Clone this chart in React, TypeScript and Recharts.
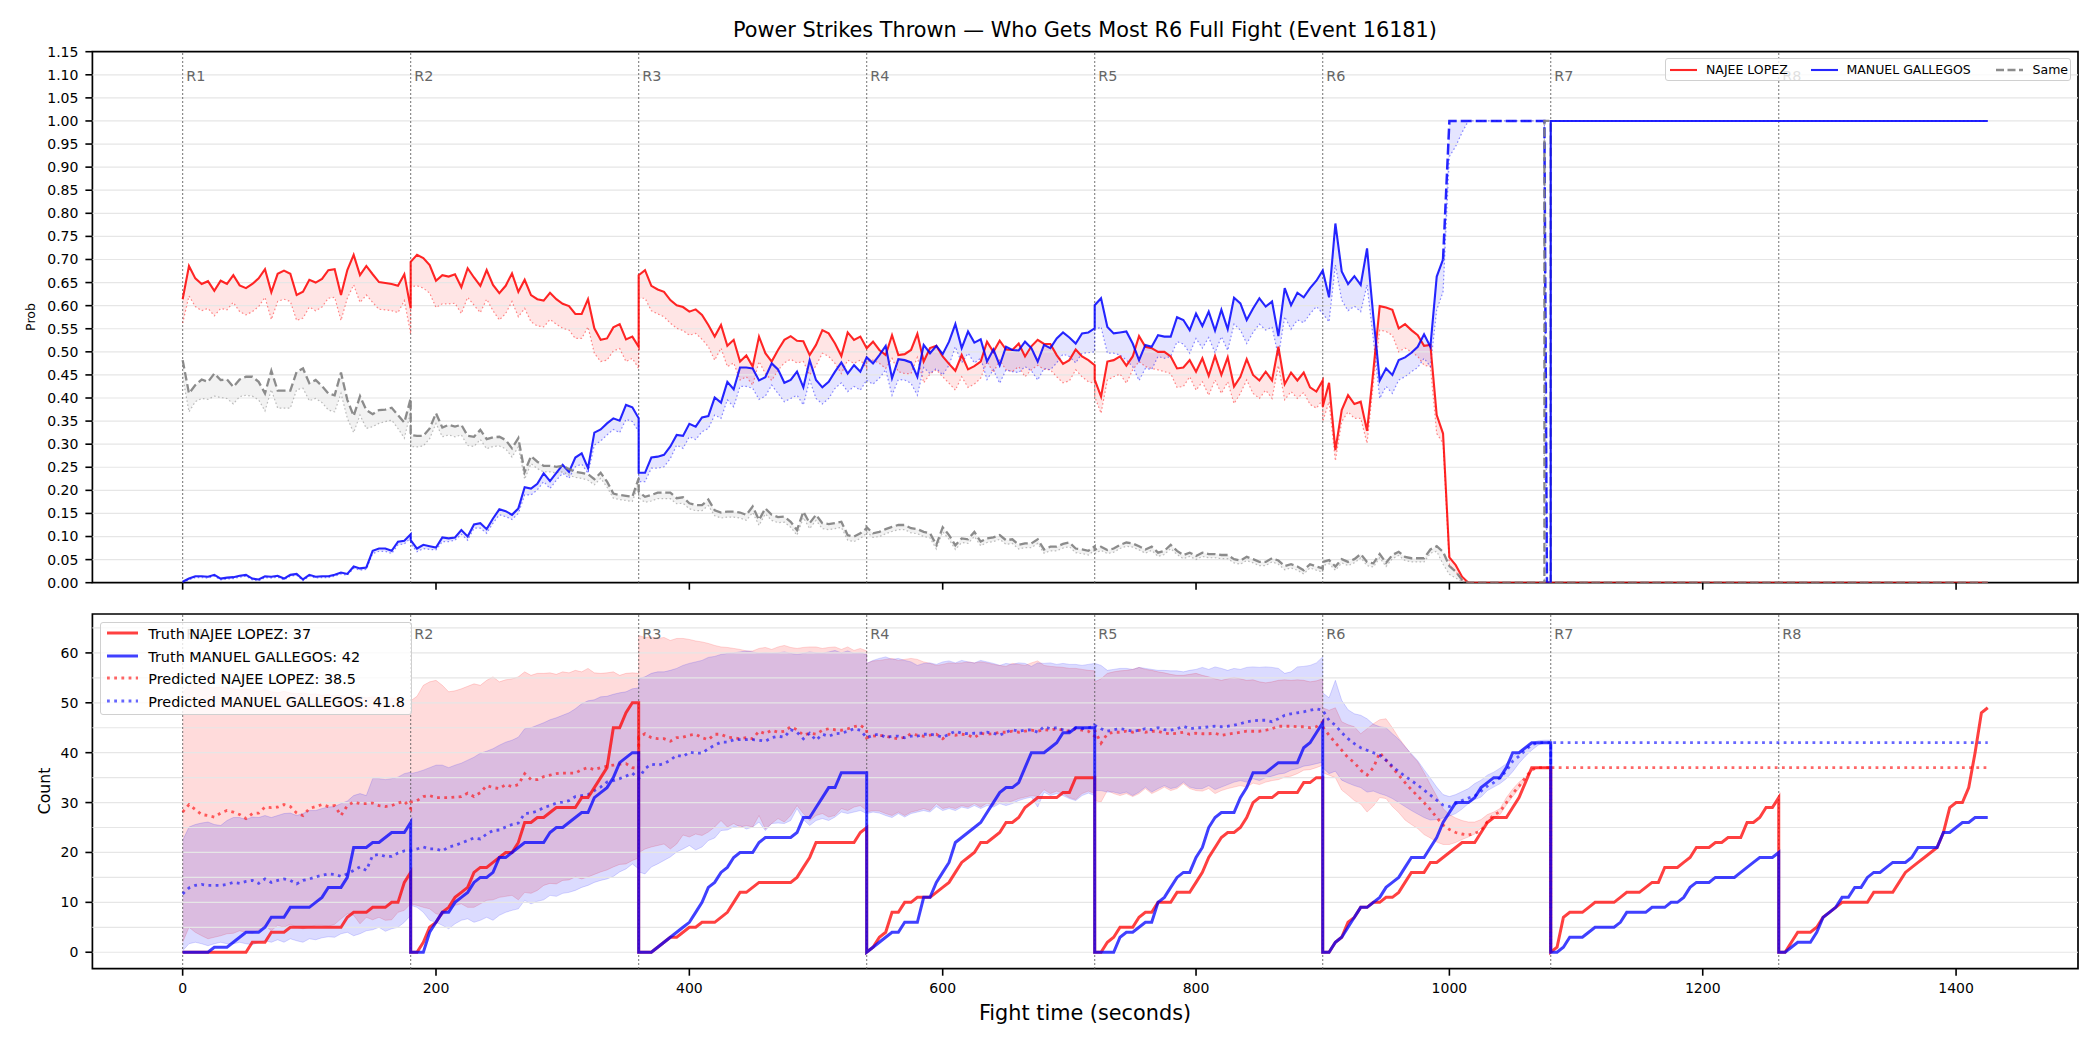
import {
  Area,
  ComposedChart,
  Line,
  ReferenceArea,
  ReferenceLine,
  XAxis,
  YAxis,
} from "recharts";

const FONT = "'DejaVu Sans', sans-serif";
const RED = "#ff0000";
const BLUE = "#0000ff";
const GRAY = "#808080";

const TITLE = "Power Strikes Thrown — Who Gets Most R6 Full Fight (Event 16181)";
const FIGHTER_A = "NAJEE LOPEZ";
const FIGHTER_B = "MANUEL GALLEGOS";
const PRED_A_TOTAL = 38.5;
const PRED_B_TOTAL = 41.8;

const ROUND_SECONDS = 180;
const SAMPLE_SECONDS = 5;
const ROUND_STARTS = [0, 180, 360, 540, 720, 900, 1080, 1260];
const ROUND_NAMES = ["R1", "R2", "R3", "R4", "R5", "R6", "R7", "R8"];

const X_DOMAIN: [number, number] = [-71.25, 1496.25];
const X_TICKS = [0, 200, 400, 600, 800, 1000, 1200, 1400];
const PROB_DOMAIN: [number, number] = [0, 1.15];
const PROB_TICKS = [
  0, 0.05, 0.1, 0.15, 0.2, 0.25, 0.3, 0.35, 0.4, 0.45, 0.5, 0.55, 0.6, 0.65,
  0.7, 0.75, 0.8, 0.85, 0.9, 0.95, 1.0, 1.05, 1.1, 1.15,
];
const COUNT_DOMAIN: [number, number] = [-3.3, 67.8];
const COUNT_TICKS = [0, 10, 20, 30, 40, 50, 60];
const COUNT_GRID = [0, 5, 10, 15, 20, 25, 30, 35, 40, 45, 50, 55, 60, 65];

// ---- win probability, one row per round, sampled every 5 s ----
const RED_PROB = [
  [0.614, 0.686, 0.659, 0.647, 0.653, 0.632, 0.654, 0.647, 0.666, 0.644, 0.638, 0.647, 0.659, 0.679, 0.629, 0.669, 0.676, 0.669, 0.623, 0.63, 0.656, 0.65, 0.658, 0.677, 0.679, 0.623, 0.677, 0.71, 0.666, 0.686, 0.668, 0.651, 0.649, 0.647, 0.643, 0.668, 0.594],
  [0.695, 0.71, 0.703, 0.688, 0.654, 0.666, 0.663, 0.668, 0.64, 0.681, 0.661, 0.643, 0.677, 0.645, 0.627, 0.643, 0.67, 0.63, 0.656, 0.623, 0.614, 0.611, 0.628, 0.614, 0.604, 0.599, 0.582, 0.582, 0.614, 0.551, 0.526, 0.529, 0.553, 0.56, 0.527, 0.533, 0.511],
  [0.666, 0.677, 0.643, 0.635, 0.63, 0.612, 0.601, 0.597, 0.587, 0.592, 0.58, 0.558, 0.533, 0.558, 0.513, 0.526, 0.479, 0.492, 0.468, 0.533, 0.497, 0.479, 0.504, 0.526, 0.534, 0.524, 0.523, 0.493, 0.515, 0.547, 0.54, 0.518, 0.491, 0.542, 0.526, 0.533, 0.508],
  [0.508, 0.522, 0.504, 0.493, 0.536, 0.493, 0.495, 0.504, 0.539, 0.479, 0.508, 0.513, 0.49, 0.474, 0.459, 0.493, 0.462, 0.469, 0.479, 0.522, 0.5, 0.524, 0.505, 0.504, 0.518, 0.49, 0.512, 0.526, 0.517, 0.517, 0.493, 0.474, 0.482, 0.505, 0.49, 0.482, 0.471],
  [0.44, 0.403, 0.479, 0.482, 0.49, 0.47, 0.49, 0.534, 0.511, 0.508, 0.5, 0.5, 0.49, 0.464, 0.466, 0.482, 0.457, 0.486, 0.448, 0.491, 0.45, 0.488, 0.425, 0.446, 0.484, 0.45, 0.438, 0.457, 0.438, 0.511, 0.43, 0.455, 0.438, 0.455, 0.423, 0.414, 0.438],
  [0.381, 0.433, 0.287, 0.374, 0.406, 0.387, 0.392, 0.329, 0.46, 0.599, 0.596, 0.591, 0.551, 0.56, 0.547, 0.536, 0.513, 0.515, 0.363, 0.323, 0.055, 0.038, 0.013, 0.0],
];
const RED_PROB_LOW = [
  [0.562, 0.621, 0.598, 0.589, 0.594, 0.578, 0.594, 0.591, 0.607, 0.587, 0.58, 0.587, 0.598, 0.618, 0.57, 0.609, 0.614, 0.609, 0.568, 0.573, 0.597, 0.589, 0.597, 0.616, 0.618, 0.568, 0.616, 0.645, 0.607, 0.623, 0.607, 0.592, 0.591, 0.589, 0.585, 0.611, 0.539],
  [0.641, 0.643, 0.638, 0.627, 0.596, 0.604, 0.604, 0.605, 0.583, 0.618, 0.601, 0.585, 0.614, 0.589, 0.569, 0.583, 0.609, 0.576, 0.594, 0.565, 0.556, 0.554, 0.57, 0.56, 0.551, 0.547, 0.529, 0.529, 0.554, 0.497, 0.479, 0.482, 0.502, 0.507, 0.479, 0.486, 0.464],
  [0.616, 0.616, 0.589, 0.582, 0.576, 0.562, 0.551, 0.546, 0.536, 0.54, 0.527, 0.511, 0.482, 0.508, 0.468, 0.476, 0.439, 0.446, 0.428, 0.479, 0.453, 0.438, 0.46, 0.476, 0.484, 0.476, 0.479, 0.45, 0.47, 0.497, 0.49, 0.475, 0.453, 0.482, 0.475, 0.482, 0.465],
  [0.479, 0.482, 0.475, 0.464, 0.486, 0.457, 0.453, 0.453, 0.488, 0.433, 0.452, 0.461, 0.446, 0.432, 0.417, 0.446, 0.423, 0.43, 0.443, 0.479, 0.455, 0.482, 0.461, 0.457, 0.468, 0.446, 0.461, 0.471, 0.462, 0.461, 0.446, 0.433, 0.437, 0.461, 0.446, 0.435, 0.432],
  [0.403, 0.367, 0.439, 0.446, 0.452, 0.432, 0.461, 0.479, 0.468, 0.464, 0.461, 0.457, 0.453, 0.423, 0.425, 0.446, 0.417, 0.435, 0.406, 0.439, 0.41, 0.435, 0.388, 0.41, 0.439, 0.41, 0.399, 0.417, 0.399, 0.47, 0.396, 0.414, 0.399, 0.412, 0.386, 0.378, 0.396],
  [0.349, 0.392, 0.264, 0.349, 0.37, 0.356, 0.356, 0.302, 0.432, 0.547, 0.544, 0.536, 0.5, 0.508, 0.5, 0.49, 0.471, 0.468, 0.323, 0.302, 0.038, 0.024, 0.006, 0.0],
];
const RED_PROB_TAIL: [number, number][] = [[1425, 0]];

const BLUE_PROB = [
  [0.002, 0.009, 0.014, 0.014, 0.013, 0.017, 0.009, 0.011, 0.012, 0.015, 0.017, 0.009, 0.007, 0.014, 0.013, 0.015, 0.009, 0.017, 0.019, 0.007, 0.017, 0.013, 0.014, 0.014, 0.017, 0.022, 0.019, 0.035, 0.031, 0.033, 0.069, 0.074, 0.074, 0.069, 0.089, 0.091, 0.105],
  [0.092, 0.074, 0.082, 0.079, 0.076, 0.098, 0.096, 0.098, 0.114, 0.1, 0.126, 0.129, 0.116, 0.139, 0.159, 0.155, 0.147, 0.161, 0.207, 0.204, 0.214, 0.237, 0.22, 0.238, 0.255, 0.24, 0.271, 0.28, 0.248, 0.325, 0.332, 0.345, 0.356, 0.351, 0.385, 0.38, 0.356],
  [0.238, 0.238, 0.271, 0.273, 0.277, 0.295, 0.32, 0.318, 0.344, 0.338, 0.358, 0.361, 0.401, 0.39, 0.435, 0.419, 0.466, 0.466, 0.464, 0.438, 0.445, 0.475, 0.462, 0.433, 0.439, 0.457, 0.423, 0.482, 0.439, 0.423, 0.435, 0.457, 0.477, 0.453, 0.471, 0.457, 0.488],
  [0.488, 0.475, 0.493, 0.513, 0.443, 0.484, 0.482, 0.477, 0.446, 0.515, 0.497, 0.513, 0.495, 0.522, 0.56, 0.508, 0.544, 0.52, 0.527, 0.479, 0.505, 0.471, 0.511, 0.504, 0.503, 0.522, 0.508, 0.479, 0.515, 0.508, 0.529, 0.542, 0.531, 0.518, 0.54, 0.542, 0.551],
  [0.601, 0.616, 0.554, 0.54, 0.542, 0.544, 0.518, 0.482, 0.515, 0.511, 0.536, 0.533, 0.533, 0.575, 0.569, 0.547, 0.583, 0.556, 0.587, 0.546, 0.591, 0.549, 0.617, 0.605, 0.569, 0.594, 0.616, 0.598, 0.609, 0.534, 0.638, 0.601, 0.628, 0.618, 0.638, 0.654, 0.676],
  [0.676, 0.618, 0.778, 0.674, 0.647, 0.664, 0.645, 0.724, 0.576, 0.438, 0.464, 0.45, 0.482, 0.488, 0.498, 0.511, 0.538, 0.511, 0.663, 0.7],
];
const BLUE_PROB_LOW = [
  [0.0, 0.006, 0.011, 0.011, 0.01, 0.014, 0.006, 0.008, 0.009, 0.012, 0.014, 0.006, 0.004, 0.011, 0.01, 0.012, 0.006, 0.014, 0.016, 0.004, 0.014, 0.01, 0.011, 0.011, 0.014, 0.019, 0.016, 0.031, 0.027, 0.029, 0.063, 0.068, 0.068, 0.063, 0.082, 0.084, 0.097],
  [0.084, 0.067, 0.074, 0.072, 0.071, 0.089, 0.089, 0.092, 0.105, 0.092, 0.118, 0.118, 0.107, 0.129, 0.147, 0.143, 0.137, 0.15, 0.19, 0.19, 0.201, 0.219, 0.204, 0.222, 0.237, 0.226, 0.251, 0.257, 0.237, 0.298, 0.307, 0.32, 0.332, 0.325, 0.354, 0.349, 0.327],
  [0.219, 0.219, 0.248, 0.248, 0.251, 0.269, 0.298, 0.291, 0.316, 0.31, 0.327, 0.334, 0.363, 0.356, 0.396, 0.381, 0.425, 0.425, 0.421, 0.397, 0.404, 0.428, 0.41, 0.392, 0.399, 0.406, 0.385, 0.439, 0.399, 0.387, 0.399, 0.421, 0.433, 0.414, 0.425, 0.417, 0.439],
  [0.438, 0.43, 0.443, 0.461, 0.406, 0.44, 0.439, 0.432, 0.406, 0.466, 0.453, 0.464, 0.45, 0.471, 0.511, 0.476, 0.497, 0.476, 0.486, 0.44, 0.461, 0.432, 0.461, 0.457, 0.455, 0.468, 0.459, 0.439, 0.464, 0.461, 0.476, 0.495, 0.49, 0.476, 0.497, 0.498, 0.5],
  [0.547, 0.554, 0.497, 0.497, 0.493, 0.482, 0.468, 0.438, 0.464, 0.462, 0.49, 0.486, 0.49, 0.522, 0.517, 0.497, 0.529, 0.508, 0.531, 0.498, 0.533, 0.503, 0.56, 0.547, 0.518, 0.542, 0.56, 0.547, 0.554, 0.49, 0.576, 0.549, 0.569, 0.563, 0.582, 0.598, 0.583],
  [0.583, 0.565, 0.688, 0.612, 0.589, 0.599, 0.587, 0.645, 0.526, 0.399, 0.425, 0.41, 0.439, 0.446, 0.457, 0.466, 0.486, 0.468, 0.591, 0.63],
];
// decision reached after the stoppage: dashed stretch, then the settled value
const BLUE_PROB_DECIDED: [number, number][] = [[995, 0.7], [1000, 1], [1005, 1], [1010, 1], [1015, 1], [1075, 1], [1077, 0], [1080, 0]];
const BLUE_PROB_DECIDED_LOW: [number, number][] = [[995, 0.63], [1000, 0.923], [1005, 0.945], [1010, 0.975], [1015, 1], [1075, 1], [1077, 0], [1080, 0]];
const BLUE_PROB_FINAL: [number, number][] = [[1080, 0], [1080, 1], [1425, 1]];

const SAME_PROB = [
  [0.482, 0.41, 0.428, 0.44, 0.435, 0.453, 0.439, 0.44, 0.424, 0.44, 0.446, 0.446, 0.435, 0.41, 0.459, 0.416, 0.416, 0.416, 0.457, 0.464, 0.432, 0.439, 0.426, 0.41, 0.406, 0.455, 0.396, 0.361, 0.404, 0.374, 0.365, 0.374, 0.375, 0.379, 0.363, 0.347, 0.399],
  [0.32, 0.318, 0.318, 0.334, 0.367, 0.336, 0.342, 0.338, 0.342, 0.318, 0.316, 0.331, 0.311, 0.315, 0.316, 0.309, 0.291, 0.313, 0.24, 0.274, 0.262, 0.253, 0.253, 0.251, 0.253, 0.246, 0.24, 0.238, 0.235, 0.224, 0.238, 0.219, 0.193, 0.19, 0.188, 0.186, 0.226],
  [0.197, 0.186, 0.19, 0.195, 0.195, 0.195, 0.183, 0.185, 0.172, 0.168, 0.168, 0.18, 0.157, 0.152, 0.154, 0.154, 0.152, 0.147, 0.165, 0.136, 0.161, 0.147, 0.142, 0.143, 0.132, 0.114, 0.154, 0.129, 0.147, 0.129, 0.127, 0.129, 0.132, 0.103, 0.1, 0.107, 0.118],
  [0.12, 0.107, 0.11, 0.116, 0.121, 0.125, 0.125, 0.118, 0.116, 0.11, 0.107, 0.082, 0.12, 0.103, 0.081, 0.096, 0.094, 0.11, 0.089, 0.096, 0.098, 0.103, 0.092, 0.094, 0.082, 0.085, 0.085, 0.094, 0.072, 0.078, 0.078, 0.084, 0.087, 0.074, 0.072, 0.069, 0.079],
  [0.071, 0.078, 0.071, 0.074, 0.082, 0.087, 0.085, 0.079, 0.072, 0.078, 0.065, 0.069, 0.082, 0.069, 0.06, 0.065, 0.058, 0.065, 0.062, 0.062, 0.06, 0.06, 0.051, 0.048, 0.056, 0.051, 0.045, 0.045, 0.053, 0.048, 0.036, 0.04, 0.035, 0.027, 0.04, 0.035, 0.031],
  [0.045, 0.049, 0.035, 0.051, 0.045, 0.051, 0.062, 0.045, 0.042, 0.062, 0.043, 0.06, 0.067, 0.056, 0.053, 0.053, 0.053, 0.072, 0.079, 0.067, 0.036, 0.024, 0.006, 0.0],
];
const SAME_PROB_LOW = [
  [0.446, 0.37, 0.392, 0.399, 0.397, 0.404, 0.401, 0.399, 0.387, 0.403, 0.406, 0.404, 0.396, 0.372, 0.418, 0.378, 0.378, 0.378, 0.418, 0.421, 0.394, 0.399, 0.39, 0.374, 0.37, 0.41, 0.356, 0.325, 0.363, 0.334, 0.338, 0.345, 0.349, 0.352, 0.334, 0.313, 0.37],
  [0.295, 0.294, 0.296, 0.312, 0.345, 0.316, 0.32, 0.316, 0.32, 0.297, 0.295, 0.31, 0.29, 0.295, 0.296, 0.29, 0.272, 0.294, 0.224, 0.258, 0.247, 0.24, 0.24, 0.238, 0.24, 0.233, 0.228, 0.226, 0.222, 0.212, 0.226, 0.207, 0.183, 0.18, 0.178, 0.176, 0.212],
  [0.184, 0.174, 0.177, 0.182, 0.182, 0.182, 0.171, 0.172, 0.16, 0.156, 0.156, 0.167, 0.145, 0.14, 0.142, 0.142, 0.14, 0.135, 0.152, 0.124, 0.149, 0.135, 0.13, 0.131, 0.12, 0.103, 0.141, 0.117, 0.135, 0.117, 0.115, 0.117, 0.12, 0.092, 0.089, 0.096, 0.107],
  [0.11, 0.098, 0.1, 0.106, 0.111, 0.115, 0.115, 0.108, 0.106, 0.1, 0.097, 0.073, 0.11, 0.094, 0.072, 0.087, 0.085, 0.1, 0.08, 0.087, 0.089, 0.094, 0.083, 0.085, 0.073, 0.076, 0.076, 0.085, 0.064, 0.069, 0.069, 0.075, 0.078, 0.065, 0.063, 0.06, 0.07],
  [0.063, 0.07, 0.063, 0.066, 0.074, 0.079, 0.077, 0.071, 0.064, 0.07, 0.057, 0.061, 0.074, 0.061, 0.052, 0.057, 0.05, 0.057, 0.054, 0.054, 0.052, 0.052, 0.043, 0.04, 0.048, 0.043, 0.037, 0.037, 0.045, 0.04, 0.028, 0.032, 0.027, 0.019, 0.032, 0.027, 0.023],
  [0.037, 0.041, 0.027, 0.043, 0.037, 0.043, 0.054, 0.037, 0.034, 0.054, 0.035, 0.052, 0.059, 0.048, 0.045, 0.045, 0.045, 0.064, 0.068, 0.04, 0.018, 0.01, 0.002, 0.0],
];
const SAME_PROB_TAIL: [number, number][] = [[1075, 0], [1075, 1], [1080, 1], [1080, 0], [1425, 0]];

// ---- cumulative power strikes per round ----
const RED_TRUTH = [
  [0, 0, 0, 0, 0, 0, 0, 0, 0, 0, 0, 2, 2, 2, 4, 4, 4, 5, 5, 5, 5, 5, 5, 5, 5, 5, 7, 8, 8, 8, 9, 9, 9, 10, 10, 14, 16],
  [0, 0, 2, 5, 6, 8, 9, 11, 12, 13, 16, 17, 17, 18, 19, 20, 20, 22, 26, 26, 27, 27, 28, 29, 29, 29, 29, 31, 31, 33, 35, 37, 45, 45, 48, 50, 50],
  [0, 0, 0, 1, 2, 3, 3, 4, 5, 5, 6, 6, 6, 7, 8, 10, 12, 12, 13, 14, 14, 14, 14, 14, 14, 15, 17, 19, 22, 22, 22, 22, 22, 22, 22, 24, 25],
  [0, 1, 3, 4, 8, 8, 10, 10, 11, 11, 11, 12, 13, 14, 16, 18, 19, 20, 22, 22, 23, 24, 26, 26, 27, 29, 30, 31, 31, 31, 31, 32, 32, 35, 35, 35, 35],
  [0, 0, 2, 3, 5, 5, 5, 7, 8, 8, 10, 10, 10, 12, 12, 12, 14, 16, 19, 21, 23, 24, 24, 25, 27, 30, 31, 31, 31, 32, 32, 32, 32, 34, 34, 35, 35],
  [0, 0, 2, 3, 6, 7, 9, 9, 10, 10, 11, 11, 12, 14, 16, 16, 16, 18, 18, 19, 20, 21, 22, 22, 22, 24, 26, 27, 27, 27, 29, 31, 34, 37, 37, 37, 37],
  [0, 1, 7, 8, 8, 8, 9, 10, 10, 10, 10, 11, 12, 12, 12, 13, 14, 14, 17, 17, 17, 18, 19, 21, 21, 21, 22, 22, 23, 23, 23, 26, 26, 27, 29, 29, 31],
  [0, 0, 2, 4, 4, 4, 5, 7, 8, 9, 10, 10, 10, 10, 10, 12, 12, 12, 12, 14, 16, 17, 18, 19, 20, 21, 24, 29, 30, 30, 33, 40, 48, 49],
];
const BLUE_TRUTH = [
  [0, 0, 0, 0, 0, 1, 1, 1, 2, 3, 4, 4, 4, 5, 7, 7, 7, 9, 9, 9, 9, 10, 11, 13, 13, 13, 15, 21, 21, 21, 22, 22, 23, 24, 24, 24, 26],
  [0, 0, 0, 4, 6, 8, 8, 10, 11, 12, 14, 15, 15, 16, 19, 19, 20, 21, 22, 22, 22, 22, 24, 25, 25, 26, 27, 28, 28, 31, 32, 33, 35, 38, 39, 40, 40],
  [0, 0, 0, 1, 2, 3, 4, 5, 6, 8, 10, 13, 14, 16, 17, 19, 20, 20, 20, 22, 23, 23, 23, 23, 23, 24, 27, 27, 29, 31, 33, 33, 36, 36, 36, 36, 36],
  [0, 1, 2, 3, 4, 4, 6, 6, 6, 11, 11, 14, 16, 18, 22, 23, 24, 25, 26, 28, 30, 32, 33, 33, 34, 37, 40, 40, 40, 41, 42, 44, 44, 45, 45, 45, 45],
  [0, 0, 0, 0, 3, 4, 4, 5, 6, 6, 10, 11, 13, 15, 16, 16, 19, 21, 25, 27, 28, 28, 28, 31, 33, 36, 36, 36, 37, 38, 38, 38, 38, 41, 42, 44, 46],
  [0, 0, 2, 3, 5, 7, 9, 9, 10, 11, 13, 14, 15, 17, 19, 19, 19, 21, 23, 26, 28, 30, 30, 30, 31, 33, 34, 35, 35, 37, 40, 40, 41, 42, 42, 42, 42],
  [0, 0, 1, 3, 3, 3, 4, 5, 5, 5, 5, 6, 8, 8, 8, 8, 9, 9, 9, 10, 10, 11, 13, 14, 14, 14, 15, 15, 15, 15, 16, 17, 18, 19, 19, 19, 20],
  [0, 0, 1, 2, 2, 2, 4, 7, 8, 9, 11, 11, 13, 13, 15, 16, 16, 17, 18, 18, 18, 19, 21, 21, 21, 21, 24, 24, 25, 26, 26, 27, 27, 27],
];
const TARGET_ROUND = 5; // R6
const TRUTH_A_TOTAL = RED_TRUTH[TARGET_ROUND][RED_TRUTH[TARGET_ROUND].length - 1];
const TRUTH_B_TOTAL = BLUE_TRUTH[TARGET_ROUND][BLUE_TRUTH[TARGET_ROUND].length - 1];

const RED_PRED = [
  [28.1, 29.6, 28.6, 27.6, 27.4, 27.1, 27.9, 28.4, 28.1, 27.6, 26.8, 27.8, 27.9, 29.1, 29.0, 29.1, 29.6, 29.2, 27.9, 27.4, 28.8, 29.2, 29.6, 29.2, 29.4, 27.4, 29.4, 30.1, 29.8, 29.8, 29.9, 29.4, 29.2, 29.4, 29.9, 30.3, 28.8],
  [30.1, 30.4, 31.2, 31.4, 31.0, 31.0, 31.0, 31.1, 31.2, 31.9, 31.2, 32.0, 33.4, 33.0, 32.8, 33.6, 33.2, 33.6, 35.8, 34.6, 34.6, 35.2, 35.5, 35.8, 35.9, 35.9, 35.9, 36.6, 37.0, 36.6, 37.0, 37.3, 37.5, 37.7, 37.8, 37.0, 36.8],
  [43.1, 43.8, 43.0, 42.8, 42.8, 42.3, 43.0, 43.1, 43.5, 43.7, 43.0, 42.6, 43.7, 43.7, 43.1, 43.0, 42.8, 43.0, 42.8, 44.3, 43.8, 44.5, 44.1, 44.3, 45.2, 44.6, 43.5, 43.9, 43.7, 44.5, 44.8, 44.6, 44.5, 44.8, 45.2, 45.5, 44.6],
  [43.0, 43.3, 43.5, 43.3, 43.0, 42.8, 43.1, 43.8, 43.5, 43.3, 43.5, 43.7, 42.8, 43.7, 43.5, 43.7, 43.5, 43.0, 43.9, 43.7, 43.8, 44.1, 44.1, 44.3, 44.1, 44.3, 44.5, 44.3, 44.6, 44.5, 44.8, 44.5, 44.3, 44.8, 44.5, 44.3, 43.3],
  [44.5, 41.9, 43.8, 44.1, 44.1, 44.3, 44.1, 44.5, 44.1, 44.3, 44.3, 43.9, 43.8, 43.9, 44.1, 43.7, 43.9, 43.8, 43.8, 43.9, 43.5, 43.7, 43.9, 44.1, 44.3, 44.3, 44.3, 44.5, 44.8, 45.3, 45.3, 45.3, 45.2, 45.2, 45.0, 45.2, 46.2],
  [45.2, 43.5, 42.0, 40.5, 39.0, 38.0, 36.5, 35.5, 37.0, 40.0, 38.5, 37.0, 35.5, 34.0, 32.6, 31.3, 30.0, 28.6, 27.0, 25.5, 24.6, 24.0, 23.7, 23.5, 23.8, 24.4, 26.2, 27.5, 28.2, 30.0, 31.8, 33.3, 35.0, 36.6, 37.0, 37.0, 37.0],
];
const BLUE_PRED = [
  [11.7, 12.9, 13.4, 13.6, 13.4, 13.4, 13.4, 13.6, 14.0, 13.8, 14.2, 14.4, 13.8, 14.7, 14.0, 14.4, 14.7, 14.4, 13.7, 14.4, 14.7, 15.1, 15.4, 15.7, 15.6, 15.2, 15.7, 16.4, 17.1, 16.4, 19.4, 19.6, 19.2, 19.2, 19.9, 20.3, 20.4],
  [20.4, 20.7, 21.1, 20.7, 20.7, 20.3, 21.1, 21.4, 21.9, 22.4, 22.9, 22.7, 23.7, 24.4, 24.5, 25.1, 25.6, 25.9, 27.8, 27.9, 28.3, 29.0, 29.4, 29.9, 30.1, 30.4, 31.2, 31.4, 31.6, 32.4, 33.1, 34.1, 34.4, 34.8, 35.3, 35.9, 34.8],
  [34.8, 36.8, 37.7, 37.5, 37.8, 38.5, 39.5, 39.2, 40.1, 39.9, 39.9, 40.8, 41.5, 42.1, 42.1, 42.6, 42.6, 42.6, 42.6, 42.5, 42.3, 43.0, 43.3, 43.1, 44.6, 44.1, 42.8, 43.9, 42.5, 43.7, 43.3, 43.8, 43.9, 44.3, 44.8, 44.5, 43.0],
  [43.0, 43.5, 43.7, 43.1, 43.3, 43.3, 43.0, 43.3, 43.3, 43.7, 43.7, 43.5, 43.1, 43.7, 44.3, 43.9, 43.8, 43.9, 43.9, 44.1, 43.9, 43.5, 44.1, 44.6, 44.3, 44.5, 44.6, 44.1, 45.2, 44.8, 45.0, 44.6, 44.3, 45.0, 44.8, 45.0, 45.3],
  [45.5, 44.8, 44.3, 44.6, 44.8, 44.6, 44.3, 44.5, 44.8, 44.6, 45.0, 44.6, 44.5, 44.8, 45.3, 44.8, 45.0, 45.0, 45.2, 45.3, 45.2, 45.3, 45.5, 45.8, 46.2, 46.4, 46.5, 46.5, 46.2, 46.8, 47.5, 47.8, 48.0, 48.2, 48.5, 48.8, 48.5],
  [48.5, 46.5, 45.5, 44.0, 42.8, 41.8, 41.0, 40.5, 40.0, 39.5, 38.5, 37.3, 36.2, 35.3, 34.4, 33.5, 32.5, 31.5, 30.5, 29.5, 29.2, 29.8, 30.4, 30.9, 31.3, 32.3, 33.3, 34.0, 35.0, 36.3, 38.3, 39.3, 40.5, 41.6, 42.0, 42.0, 42.0],
];
const RED_PRED_AFTER: [number, number][] = [[1080, 0], [1080, TRUTH_A_TOTAL], [1425, TRUTH_A_TOTAL]];
const BLUE_PRED_AFTER: [number, number][] = [[1080, 0], [1080, TRUTH_B_TOTAL], [1425, TRUTH_B_TOTAL]];

const RED_PRED_HI = [
  [52.0, 53.5, 53.8, 53.5, 53.2, 53.0, 53.2, 53.0, 52.8, 52.6, 52.8, 52.5, 52.3, 52.6, 52.2, 52.0, 52.3, 52.0, 51.8, 52.0, 51.7, 51.8, 51.5, 51.7, 51.4, 51.5, 51.2, 51.5, 51.3, 51.0, 51.2, 51.0, 50.8, 51.0, 50.8, 50.6, 50.4],
  [50.4, 51.3, 53.5, 54.2, 54.5, 53.5, 52.2, 52.4, 52.8, 53.3, 53.8, 53.5, 54.5, 55.2, 54.2, 54.6, 54.8, 55.2, 56.2, 55.5, 55.9, 55.9, 56.0, 55.7, 56.2, 56.0, 56.5, 56.2, 56.9, 56.0, 55.9, 56.0, 56.2, 55.5, 55.9, 56.0, 55.9],
  [63.5, 63.1, 63.2, 62.9, 63.1, 62.5, 62.9, 62.9, 62.7, 62.4, 62.2, 61.9, 61.5, 61.2, 61.1, 60.9, 60.7, 60.4, 60.4, 60.9, 61.1, 60.7, 61.2, 61.5, 61.1, 60.9, 61.1, 61.2, 61.2, 60.9, 61.1, 61.2, 60.7, 61.2, 60.5, 60.9, 60.4],
  [57.9, 58.4, 58.5, 58.7, 58.9, 58.5, 58.7, 58.9, 58.7, 58.2, 57.9, 57.5, 57.7, 58.0, 57.9, 58.0, 58.2, 58.0, 58.2, 58.0, 57.7, 57.5, 57.3, 57.9, 57.7, 57.5, 58.0, 58.4, 57.5, 57.3, 57.2, 57.1, 56.9, 56.9, 56.7, 56.5, 56.4],
  [54.2, 54.8, 55.9, 56.2, 56.4, 56.5, 56.7, 57.1, 56.7, 56.5, 56.2, 56.0, 55.7, 55.5, 55.5, 55.7, 55.9, 55.5, 55.2, 54.8, 54.5, 54.8, 55.1, 54.8, 54.5, 54.6, 54.2, 54.0, 54.2, 54.5, 54.6, 54.5, 54.6, 54.5, 54.2, 54.4, 54.8],
  [49.0, 48.5, 49.0, 46.2, 45.6, 45.2, 43.8, 44.8, 45.8, 46.6, 46.8, 45.0, 43.0, 41.3, 39.6, 38.2, 36.0, 33.6, 31.3, 28.8, 27.6, 26.9, 26.4, 26.1, 26.1, 26.6, 27.6, 28.1, 28.8, 31.0, 32.7, 34.1, 35.1, 36.4, 37.0, 37.1, 37.1],
];
const RED_PRED_LO = [
  [2.0, 5.0, 4.0, 3.3, 2.7, 3.0, 3.3, 3.7, 3.8, 4.3, 4.0, 3.8, 4.5, 5.4, 4.3, 5.4, 5.0, 5.6, 5.0, 4.7, 5.0, 5.4, 5.4, 5.2, 5.6, 6.7, 7.7, 7.4, 5.7, 7.0, 6.5, 7.0, 6.4, 6.5, 8.0, 8.4, 9.7],
  [9.7, 9.4, 9.0, 8.7, 7.7, 7.4, 8.4, 9.4, 9.7, 9.0, 9.0, 9.7, 10.4, 10.5, 11.0, 11.2, 11.4, 10.5, 12.0, 11.8, 12.4, 13.4, 13.8, 13.7, 14.4, 14.5, 15.1, 14.7, 15.1, 15.6, 16.1, 16.5, 17.1, 17.6, 17.7, 18.4, 18.9],
  [19.9, 20.7, 21.1, 21.4, 21.7, 20.7, 21.7, 23.5, 23.1, 23.7, 23.4, 24.1, 25.1, 26.4, 25.1, 25.8, 25.1, 25.4, 25.1, 27.4, 24.7, 25.8, 26.8, 26.1, 27.4, 29.4, 27.8, 26.4, 27.4, 27.8, 27.1, 27.4, 28.8, 28.4, 29.1, 29.4, 28.4],
  [28.1, 28.4, 28.3, 27.8, 27.4, 28.1, 27.4, 28.1, 28.4, 28.8, 28.4, 29.8, 28.8, 29.1, 28.8, 29.4, 29.1, 29.8, 29.1, 29.9, 29.4, 30.3, 29.9, 30.3, 30.8, 31.1, 31.4, 31.2, 32.6, 31.8, 32.3, 31.8, 31.0, 30.6, 31.8, 32.3, 31.8],
  [30.4, 30.1, 32.4, 31.8, 31.4, 31.8, 31.2, 31.8, 32.8, 31.8, 32.4, 33.1, 32.4, 32.8, 33.8, 32.8, 32.4, 32.3, 32.8, 31.8, 32.4, 32.8, 33.1, 33.4, 33.1, 33.9, 33.6, 34.1, 34.4, 34.6, 35.1, 35.3, 35.8, 36.5, 36.6, 37.0, 37.5],
  [36.0, 35.5, 35.0, 32.5, 31.5, 30.4, 29.7, 28.1, 29.3, 31.0, 30.8, 29.2, 28.0, 26.5, 25.6, 24.8, 23.6, 22.9, 22.1, 21.6, 21.6, 22.0, 22.6, 23.1, 23.7, 24.9, 26.3, 26.9, 27.6, 29.5, 31.2, 32.8, 34.8, 36.3, 37.0, 37.0, 37.1],
];
const BLUE_PRED_HI = [
  [22.4, 25.1, 25.6, 25.9, 26.1, 25.6, 25.4, 26.4, 27.0, 27.0, 26.6, 27.1, 27.0, 27.4, 27.0, 27.4, 27.8, 27.9, 27.4, 27.8, 28.4, 28.4, 28.8, 29.1, 29.2, 29.8, 30.3, 31.4, 31.8, 31.4, 34.8, 34.8, 34.6, 34.8, 35.1, 35.8, 36.1],
  [35.8, 36.1, 36.5, 37.0, 37.5, 37.5, 37.0, 37.5, 37.9, 38.5, 39.1, 39.9, 40.3, 40.8, 41.5, 42.1, 42.5, 43.1, 44.8, 45.0, 45.5, 46.0, 46.6, 47.0, 47.5, 48.0, 48.8, 49.8, 50.4, 50.6, 51.2, 51.3, 51.7, 52.0, 52.2, 52.8, 53.0],
  [54.8, 55.2, 55.9, 56.2, 56.2, 56.5, 56.9, 57.5, 57.9, 58.2, 58.5, 59.1, 59.3, 59.7, 59.9, 60.0, 60.2, 60.4, 60.2, 59.9, 60.0, 59.9, 60.0, 60.2, 59.9, 59.7, 59.9, 60.2, 60.0, 59.9, 60.2, 60.5, 60.0, 60.4, 59.9, 60.0, 59.7],
  [57.9, 58.5, 58.9, 59.2, 58.7, 58.9, 58.5, 58.2, 57.5, 57.9, 58.0, 57.7, 58.2, 58.4, 58.0, 58.5, 58.2, 58.0, 58.5, 58.2, 57.9, 57.5, 57.9, 57.7, 58.0, 57.9, 57.3, 58.0, 57.9, 58.0, 57.7, 57.9, 57.7, 57.7, 57.5, 57.7, 57.9],
  [57.9, 57.5, 56.5, 56.7, 56.9, 56.9, 56.7, 57.1, 56.9, 56.7, 56.5, 56.5, 56.4, 56.4, 56.2, 56.5, 56.7, 57.1, 56.7, 57.2, 56.9, 56.5, 56.9, 56.7, 57.1, 57.2, 57.1, 57.2, 57.1, 56.9, 55.9, 56.2, 57.2, 57.3, 57.5, 58.0, 59.2],
  [52.0, 51.0, 54.5, 50.5, 48.6, 47.8, 47.5, 46.8, 45.7, 45.2, 45.0, 43.8, 42.7, 41.2, 39.8, 38.4, 36.6, 34.9, 33.1, 31.6, 31.2, 31.6, 32.2, 32.8, 33.8, 34.5, 35.5, 36.1, 36.9, 37.8, 39.2, 40.2, 41.1, 42.0, 42.4, 42.5, 42.5],
];
const BLUE_PRED_LO = [
  [0.3, 1.7, 2.0, 1.7, 1.3, 1.7, 2.0, 1.7, 1.7, 2.0, 1.7, 1.5, 2.0, 2.3, 2.0, 2.5, 2.0, 2.7, 2.3, 2.0, 2.7, 2.5, 2.9, 3.1, 3.0, 3.7, 4.0, 3.3, 3.7, 4.3, 4.5, 5.0, 4.2, 4.7, 5.0, 6.0, 7.4],
  [9.4, 9.0, 8.0, 6.4, 6.0, 5.4, 4.7, 5.7, 6.4, 6.7, 6.0, 6.4, 7.0, 6.4, 7.4, 8.0, 8.4, 8.7, 10.4, 9.7, 10.2, 10.5, 11.4, 11.2, 11.8, 12.0, 12.4, 13.0, 13.4, 14.0, 14.4, 14.7, 15.2, 16.1, 16.7, 17.7, 16.7],
  [16.1, 15.7, 17.1, 17.7, 18.4, 19.1, 20.1, 20.7, 21.4, 20.5, 21.1, 22.4, 22.9, 24.4, 24.5, 25.1, 25.4, 24.7, 25.1, 26.1, 24.4, 25.8, 25.9, 25.8, 26.4, 28.8, 26.6, 25.4, 26.4, 26.8, 26.4, 27.1, 28.1, 27.8, 28.1, 28.4, 27.8],
  [27.8, 28.1, 27.9, 27.4, 27.0, 27.8, 27.1, 27.8, 28.1, 28.4, 28.1, 29.2, 28.4, 28.8, 28.4, 29.1, 28.8, 29.4, 28.8, 29.4, 29.1, 29.8, 29.4, 29.8, 30.4, 30.8, 31.1, 29.1, 32.1, 31.4, 31.8, 31.4, 30.8, 30.4, 31.4, 31.9, 31.4],
  [32.4, 32.4, 32.1, 32.1, 31.8, 32.1, 31.4, 32.1, 33.1, 32.1, 32.8, 33.4, 32.8, 33.1, 34.1, 33.1, 32.8, 32.8, 33.4, 32.6, 33.1, 33.6, 34.1, 34.4, 34.1, 34.8, 34.4, 35.0, 35.3, 35.7, 35.9, 36.5, 36.8, 37.3, 37.5, 37.8, 38.1],
  [37.0, 35.8, 36.3, 34.5, 33.9, 33.4, 33.0, 32.1, 32.3, 31.8, 31.4, 30.8, 30.0, 29.2, 28.4, 27.7, 27.0, 26.5, 26.6, 26.9, 27.3, 27.8, 28.7, 29.8, 30.6, 31.1, 32.4, 33.1, 33.8, 34.8, 36.2, 37.9, 39.3, 40.5, 41.5, 42.0, 42.1],
];

type Pt = { t: number; v: number };
type BandPt = { t: number; r: [number, number] };

function toPoints(rounds: number[][], extra: [number, number][] = []): Pt[] {
  const pts: Pt[] = [];
  rounds.forEach((vals, r) =>
    vals.forEach((v, k) => pts.push({ t: r * ROUND_SECONDS + k * SAMPLE_SECONDS, v }))
  );
  extra.forEach(([t, v]) => pts.push({ t, v }));
  return pts;
}

function toBand(lo: Pt[], hi: Pt[]): BandPt[] {
  return lo.map((p, i) => ({ t: p.t, r: [p.v, hi[i].v] }));
}

const pairs = (list: [number, number][]): Pt[] => list.map(([t, v]) => ({ t, v }));

// probability panel series
const redProb = toPoints(RED_PROB, RED_PROB_TAIL);
const redProbLow = toPoints(RED_PROB_LOW, RED_PROB_TAIL);
const blueProb = toPoints(BLUE_PROB);
const blueProbLowFull = toPoints(BLUE_PROB_LOW, [...BLUE_PROB_DECIDED_LOW, ...BLUE_PROB_FINAL]);
const blueProbFull = toPoints(BLUE_PROB, [...BLUE_PROB_DECIDED, ...BLUE_PROB_FINAL]);
const blueDecided = pairs(BLUE_PROB_DECIDED);
const blueFinal = pairs(BLUE_PROB_FINAL);
const sameProb = toPoints(SAME_PROB, SAME_PROB_TAIL);
const sameProbLow = toPoints(SAME_PROB_LOW, SAME_PROB_TAIL);

// count panel series
const redTruth = toPoints(RED_TRUTH);
const blueTruth = toPoints(BLUE_TRUTH);
const redPred = toPoints(RED_PRED, RED_PRED_AFTER);
const bluePred = toPoints(BLUE_PRED, BLUE_PRED_AFTER);
const redBand = toBand(toPoints(RED_PRED_LO), toPoints(RED_PRED_HI));
const blueBand = toBand(toPoints(BLUE_PRED_LO), toPoints(BLUE_PRED_HI));

// grid lines strictly inside the frame so they never paint over the spines
const inside = (vals: number[], [lo, hi]: [number, number]) => vals.filter((v) => v > lo && v < hi);

const W = 2100;
const Y_AXIS_W = 80;
const PLOT_LEFT = 92.4;
const PLOT_RIGHT = 22;

const tickStyle = { fill: "#000", fontSize: 14, fontFamily: FONT };
const tickLineStyle = { stroke: "#000", strokeWidth: 1.6 };

function roundLabel(name: string, dy: number) {
  return (props: any) => {
    const vb = props?.viewBox ?? {};
    return (
      <text x={(vb.x ?? 0) + 3.5} y={(vb.y ?? 0) + dy} fill="#666" fontSize={14.4} fontFamily={FONT}>
        {name}
      </text>
    );
  };
}

function roundLines(dy: number) {
  return ROUND_STARTS.map((t, i) => (
    <ReferenceLine
      key={`round-${t}`}
      x={t}
      stroke="#555"
      strokeWidth={1.1}
      strokeDasharray="1.5 2.5"
      label={roundLabel(ROUND_NAMES[i], dy)}
    />
  ));
}

const commonLine = {
  type: "linear" as const,
  dataKey: "v",
  dot: false,
  activeDot: false,
  isAnimationActive: false,
  legendType: "none" as const,
};

function ProbPanel() {
  return (
    <ComposedChart
      width={W}
      height={600}
      margin={{ top: 51.7, right: PLOT_RIGHT, bottom: 7.3, left: PLOT_LEFT - Y_AXIS_W }}
    >
      <XAxis
        type="number"
        dataKey="t"
        domain={X_DOMAIN}
        allowDataOverflow
        ticks={X_TICKS}
        interval={0}
        height={10}
        tickSize={7}
        tickFormatter={() => ""}
        axisLine={false}
        tickLine={tickLineStyle}
      />
      <YAxis
        type="number"
        domain={PROB_DOMAIN}
        allowDataOverflow
        ticks={PROB_TICKS}
        interval={0}
        width={Y_AXIS_W}
        tickSize={7}
        tickMargin={7}
        tick={tickStyle}
        tickFormatter={(v: number) => v.toFixed(2)}
        axisLine={false}
        tickLine={tickLineStyle}
      />
      {inside(PROB_TICKS, PROB_DOMAIN).map((v) => (
        <ReferenceLine key={`pg-${v}`} y={v} stroke="#e6e6e6" strokeWidth={1.2} />
      ))}
      {roundLines(29)}

      <Area data={toBand(sameProbLow, sameProb)} dataKey="r" type="linear" stroke="none" fill={GRAY} fillOpacity={0.1} isAnimationActive={false} />
      <Area data={toBand(blueProbLowFull, blueProbFull)} dataKey="r" type="linear" stroke="none" fill={BLUE} fillOpacity={0.1} isAnimationActive={false} />
      <Area data={toBand(redProbLow, redProb)} dataKey="r" type="linear" stroke="none" fill={RED} fillOpacity={0.1} isAnimationActive={false} />

      <Line {...commonLine} data={redProbLow} stroke={RED} strokeOpacity={0.45} strokeWidth={1.2} strokeDasharray="1.6 2.4" />
      <Line {...commonLine} data={blueProbLowFull} stroke={BLUE} strokeOpacity={0.45} strokeWidth={1.2} strokeDasharray="1.6 2.4" />
      <Line {...commonLine} data={sameProbLow} stroke={GRAY} strokeOpacity={0.5} strokeWidth={1.2} strokeDasharray="1.6 2.4" />

      <Line {...commonLine} data={redProb} stroke={RED} strokeOpacity={0.85} strokeWidth={2.1} />
      <Line {...commonLine} data={blueProb} stroke={BLUE} strokeOpacity={0.85} strokeWidth={2.1} />
      <Line {...commonLine} data={blueDecided} stroke={BLUE} strokeOpacity={0.85} strokeWidth={2.5} strokeDasharray="11 4" />
      <Line {...commonLine} data={sameProb} stroke={GRAY} strokeOpacity={0.9} strokeWidth={2.3} strokeDasharray="8.5 3.7" />
      <Line {...commonLine} data={blueFinal} stroke={BLUE} strokeOpacity={0.85} strokeWidth={2.1} />

      <ReferenceArea
        x1={X_DOMAIN[0]}
        x2={X_DOMAIN[1]}
        y1={PROB_DOMAIN[0]}
        y2={PROB_DOMAIN[1]}
        fill="none"
        stroke="#000"
        strokeWidth={1.7}
        ifOverflow="visible"
      />
    </ComposedChart>
  );
}

function CountPanel() {
  return (
    <ComposedChart
      width={W}
      height={460}
      margin={{ top: 24, right: PLOT_RIGHT, bottom: 41.3, left: PLOT_LEFT - Y_AXIS_W }}
    >
      <XAxis
        type="number"
        dataKey="t"
        domain={X_DOMAIN}
        allowDataOverflow
        ticks={X_TICKS}
        interval={0}
        height={40}
        tickSize={7}
        tickMargin={7}
        tick={tickStyle}
        axisLine={false}
        tickLine={tickLineStyle}
      />
      <YAxis
        type="number"
        domain={COUNT_DOMAIN}
        allowDataOverflow
        ticks={COUNT_TICKS}
        interval={0}
        width={Y_AXIS_W}
        tickSize={7}
        tickMargin={7}
        tick={tickStyle}
        axisLine={false}
        tickLine={tickLineStyle}
      />
      {inside(COUNT_GRID, COUNT_DOMAIN).map((v) => (
        <ReferenceLine key={`cg-${v}`} y={v} stroke="#e6e6e6" strokeWidth={1.2} />
      ))}
      {roundLines(25)}

      <Area data={redBand} dataKey="r" type="linear" stroke={RED} strokeOpacity={0.15} strokeWidth={1} fill={RED} fillOpacity={0.14} isAnimationActive={false} />
      <Area data={blueBand} dataKey="r" type="linear" stroke={BLUE} strokeOpacity={0.15} strokeWidth={1} fill={BLUE} fillOpacity={0.14} isAnimationActive={false} />

      <Line {...commonLine} data={redPred} stroke={RED} strokeOpacity={0.6} strokeWidth={2.8} strokeDasharray="2.8 4.4" />
      <Line {...commonLine} data={bluePred} stroke={BLUE} strokeOpacity={0.6} strokeWidth={2.8} strokeDasharray="2.8 4.4" />
      <Line {...commonLine} data={redTruth} stroke={RED} strokeOpacity={0.75} strokeWidth={3} />
      <Line {...commonLine} data={blueTruth} stroke={BLUE} strokeOpacity={0.75} strokeWidth={3} />

      <ReferenceArea
        x1={X_DOMAIN[0]}
        x2={X_DOMAIN[1]}
        y1={COUNT_DOMAIN[0]}
        y2={COUNT_DOMAIN[1]}
        fill="none"
        stroke="#000"
        strokeWidth={1.7}
        ifOverflow="visible"
      />
    </ComposedChart>
  );
}

function Handle({ color, opacity, width, dash, length }: { color: string; opacity: number; width: number; dash?: string; length: number }) {
  return (
    <svg width={length} height={10} style={{ display: "block" }}>
      <line x1={0} y1={5} x2={length} y2={5} stroke={color} strokeOpacity={opacity} strokeWidth={width} strokeDasharray={dash} />
    </svg>
  );
}

const legendBox = {
  position: "absolute" as const,
  background: "rgba(255,255,255,0.8)",
  border: "1px solid #d0d0d0",
  borderRadius: 3,
  boxSizing: "border-box" as const,
  fontFamily: FONT,
  color: "#000",
};

function ProbLegend() {
  const items = [
    { x: 4.3, tx: 40.3, label: FIGHTER_A, color: RED, opacity: 0.85, width: 2.1 },
    { x: 145.3, tx: 180.8, label: FIGHTER_B, color: BLUE, opacity: 0.85, width: 2.1 },
    { x: 330.8, tx: 366.9, label: "Same", color: GRAY, opacity: 0.9, width: 2.3, dash: "8 3.5" },
  ];
  return (
    <div style={{ ...legendBox, left: 1664.7, top: 57.7, width: 406.3, height: 23.3, fontSize: 12.5 }}>
      {items.map((it) => (
        <div key={it.label}>
          <div style={{ position: "absolute", left: it.x, top: 6 }}>
            <Handle color={it.color} opacity={it.opacity} width={it.width} dash={it.dash} length={27} />
          </div>
          <div style={{ position: "absolute", left: it.tx, top: 3, whiteSpace: "nowrap", lineHeight: "15px" }}>{it.label}</div>
        </div>
      ))}
    </div>
  );
}

function CountLegend() {
  const rows = [
    { label: `Truth ${FIGHTER_A}: ${TRUTH_A_TOTAL}`, color: RED, opacity: 0.75, width: 3 },
    { label: `Truth ${FIGHTER_B}: ${TRUTH_B_TOTAL}`, color: BLUE, opacity: 0.75, width: 3 },
    { label: `Predicted ${FIGHTER_A}: ${PRED_A_TOTAL}`, color: RED, opacity: 0.6, width: 2.8, dash: "2.8 4.4" },
    { label: `Predicted ${FIGHTER_B}: ${PRED_B_TOTAL}`, color: BLUE, opacity: 0.6, width: 2.8, dash: "2.8 4.4" },
  ];
  const centers = [11.6, 34.3, 56.8, 79.2];
  return (
    <div style={{ ...legendBox, left: 100.4, top: 621.7, width: 311.4, height: 93.3, fontSize: 14.4 }}>
      {rows.map((row, i) => (
        <div key={row.label}>
          <div style={{ position: "absolute", left: 5.4, top: centers[i] - 6 }}>
            <Handle color={row.color} opacity={row.opacity} width={row.width} dash={row.dash} length={31.5} />
          </div>
          <div style={{ position: "absolute", left: 46.9, top: centers[i] - 9, whiteSpace: "nowrap", lineHeight: "18px" }}>{row.label}</div>
        </div>
      ))}
    </div>
  );
}

export default function App() {
  return (
    <div style={{ position: "relative", width: W, height: 1050, background: "#fff", overflow: "hidden" }}>
      <style>{"body{margin:0;background:#fff}"}</style>
      <div style={{ position: "absolute", left: 0, top: 0 }}>
        <ProbPanel />
      </div>
      <div style={{ position: "absolute", left: 0, top: 590 }}>
        <CountPanel />
      </div>
      <svg width={W} height={1050} style={{ position: "absolute", left: 0, top: 0, pointerEvents: "none" }}>
        <text x={1085} y={37} textAnchor="middle" fontSize={20.8} fontFamily={FONT} fill="#000">
          {TITLE}
        </text>
        <text x={1085} y={1020} textAnchor="middle" fontSize={20.8} fontFamily={FONT} fill="#000">
          Fight time (seconds)
        </text>
        <text transform="translate(35,317) rotate(-90)" textAnchor="middle" fontSize={12.5} fontFamily={FONT} fill="#000">
          Prob
        </text>
        <text transform="translate(50,791) rotate(-90)" textAnchor="middle" fontSize={15.7} fontFamily={FONT} fill="#000">
          Count
        </text>
      </svg>
      <ProbLegend />
      <CountLegend />
    </div>
  );
}
